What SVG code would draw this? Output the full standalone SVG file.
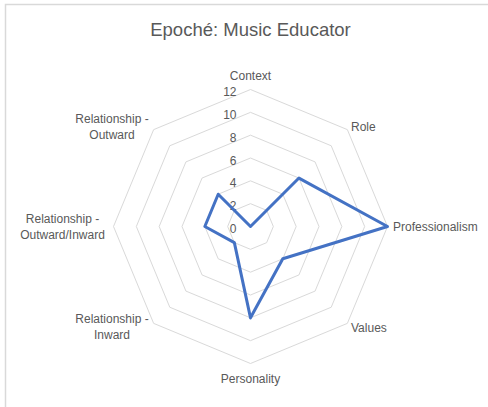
<svg xmlns="http://www.w3.org/2000/svg" width="488" height="407" viewBox="0 0 488 407">
<style>
.ring{fill:none;stroke:#d9d9d9;stroke-width:1}
.lbl{font-family:"Liberation Sans",Arial,sans-serif;font-size:12px;fill:#595959}
.num{font-family:"Liberation Sans",Arial,sans-serif;font-size:12px;fill:#595959;text-anchor:end}
.mid{text-anchor:middle}
</style>
<rect width="488" height="407" fill="#ffffff"/>
<path d="M5.5 407 V4.5 H488" fill="none" stroke="#d9d9d9" stroke-width="1.5"/>
<text id="title" x="250.5" y="36" text-anchor="middle" font-family="'Liberation Sans',Arial,sans-serif" font-size="18.5" fill="#595959">Epoché: Music Educator</text>
<g id="grid">
<polygon class="ring" points="250.5,203.67 266.65,210.35 273.33,226.5 266.65,242.65 250.5,249.33 234.35,242.65 227.67,226.5 234.35,210.35"/>
<polygon class="ring" points="250.5,180.83 282.79,194.21 296.17,226.5 282.79,258.79 250.5,272.17 218.21,258.79 204.83,226.5 218.21,194.21"/>
<polygon class="ring" points="250.5,158 298.94,178.06 319,226.5 298.94,274.94 250.5,295 202.06,274.94 182,226.5 202.06,178.06"/>
<polygon class="ring" points="250.5,135.17 315.08,161.92 341.83,226.5 315.08,291.08 250.5,317.83 185.92,291.08 159.17,226.5 185.92,161.92"/>
<polygon class="ring" points="250.5,112.33 331.23,145.77 364.67,226.5 331.23,307.23 250.5,340.67 169.77,307.23 136.33,226.5 169.77,145.77"/>
<polygon class="ring" points="250.5,89.5 347.37,129.63 387.5,226.5 347.37,323.37 250.5,363.5 153.63,323.37 113.5,226.5 153.63,129.63"/>
</g>
<g id="axis-values">
<text class="num" x="236.5" y="96">12</text>
<text class="num" x="236.5" y="118.8">10</text>
<text class="num" x="236.5" y="141.7">8</text>
<text class="num" x="236.5" y="164.5">6</text>
<text class="num" x="236.5" y="187.3">4</text>
<text class="num" x="236.5" y="210.2">2</text>
<text class="num" x="236.5" y="233">0</text>
</g>
<g id="categories">
<g id="context"><text class="lbl mid" x="250.5" y="80">Context</text></g>
<g id="role"><text class="lbl" x="351" y="131">Role</text></g>
<g id="professionalism"><text class="lbl" x="393" y="231">Professionalism</text></g>
<g id="values"><text class="lbl" x="351" y="332">Values</text></g>
<g id="personality"><text class="lbl mid" x="250.5" y="383">Personality</text></g>
<g id="rel-inward"><text class="lbl mid" x="112" y="323">Relationship -</text><text class="lbl mid" x="112" y="339">Inward</text></g>
<g id="rel-outward-inward"><text class="lbl mid" x="62.5" y="222.5">Relationship -</text><text class="lbl mid" x="62.5" y="239">Outward/Inward</text></g>
<g id="rel-outward"><text class="lbl mid" x="112" y="122.5">Relationship -</text><text class="lbl mid" x="112" y="138.5">Outward</text></g>
</g>
<g id="series">
<polygon points="250.5,226.5 298.94,178.06 387.5,226.5 282.79,258.79 250.5,317.83 234.35,242.65 204.83,226.5 218.21,194.21" fill="none" stroke="#4472c4" stroke-width="3" stroke-linejoin="round"/>
</g>
</svg>
